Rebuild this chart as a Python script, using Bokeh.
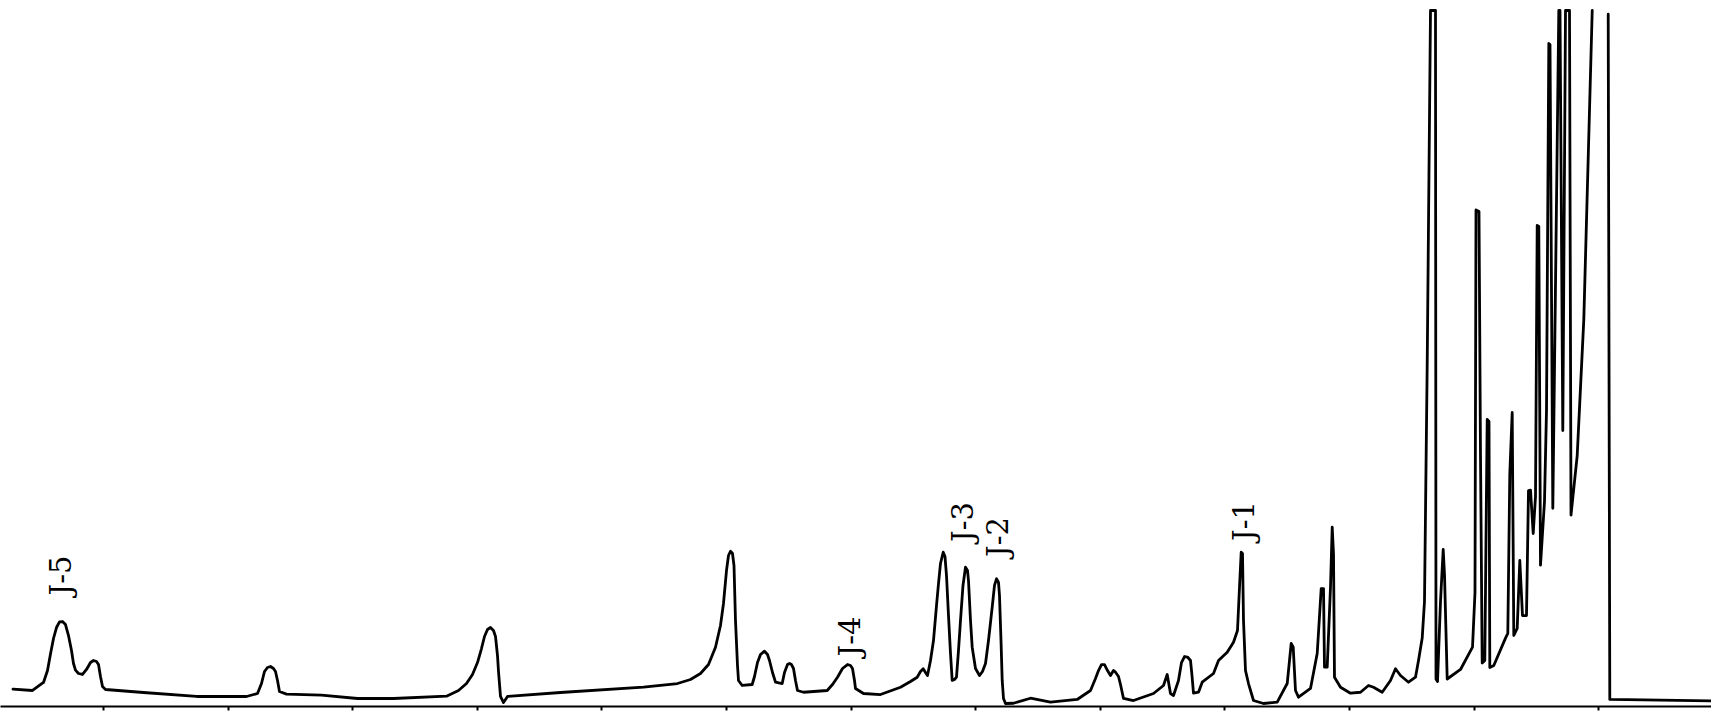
import numpy as np
from bokeh.plotting import figure
from bokeh.models import Range1d, FixedTicker
from bokeh.embed import file_html
from bokeh.resources import INLINE
from bokeh.core.properties import value

NAN = float("nan")

# retention time (chart divisions) and detector signal (% of full scale)
retention_time = [
    -0.7263, -0.5698, -0.4815, -0.4494, -0.4254, -0.4013, -0.3772, -0.3531, -0.3291, -0.3050,
    -0.2809, -0.2568, -0.2408, -0.2247, -0.2006, -0.1685, -0.1364, -0.1043, -0.0803, -0.0562,
    -0.0401, -0.0241, -0.0080, 0.0161, 0.3210, 0.7464, 1.1477,
    1.2360, 1.2681, 1.2921, 1.3162, 1.3403, 1.3644, 1.3804, 1.3965, 1.4125, 1.4687,
    1.7496, 2.0385, 2.3275, 2.7528,
    2.8491, 2.9133, 2.9615, 3.0016, 3.0337, 3.0578, 3.0819, 3.1059, 3.1300, 3.1461,
    3.1621, 3.1702, 3.1862, 3.2103, 3.2424, 3.6677, 4.3339,
    4.6068, 4.7111, 4.7913, 4.8555, 4.9117, 4.9518, 4.9759, 5.0000, 5.0161, 5.0321,
    5.0482, 5.0602, 5.0722, 5.0883, 5.0963, 5.1260, 5.2062, 5.2247, 5.2488, 5.2729,
    5.3050, 5.3290, 5.3451, 5.3692, 5.3933, 5.4471, 5.4655, 5.4896, 5.5056, 5.5217,
    5.5377, 5.5538, 5.5698, 5.6180,
    5.8082, 5.8507, 5.8908, 5.9310, 5.9711, 5.9952, 6.0112, 6.0273, 6.0353, 6.0995, 6.2360,
    6.3965, 6.4767, 6.5305, 6.5570, 6.5787, 6.5971, 6.6132, 6.6373, 6.6613, 6.6854,
    6.7015, 6.7175, 6.7392, 6.7536, 6.7657, 6.7817, 6.7978, 6.8114, 6.8299, 6.8459,
    6.8620, 6.8780, 6.8981, 6.9181, 6.9342, 6.9422, 6.9583, 6.9719, 6.9984, 7.0305,
    7.0546, 7.0787, 7.1027, 7.1325, 7.1509, 7.1670, 7.1830, 7.1910, 7.2031, 7.2127,
    7.2231, 7.2392, 7.3034, 7.4398, 7.6003, 7.8146,
    7.9214, 7.9615, 7.9856, 8.0096, 8.0337, 8.0578, 8.0819, 8.1059, 8.1220, 8.1461,
    8.1621, 8.1862, 8.2665, 8.4270, 8.5072, 8.5369, 8.5634, 8.5875, 8.6276, 8.6517,
    8.6758, 8.6998, 8.7239, 8.7360, 8.7480, 8.7881, 8.8178,
    8.9085, 8.9487, 9.0185, 9.0690, 9.1011, 9.1172, 9.1308, 9.1413, 9.1493, 9.1653,
    9.1894, 9.2296, 9.3098, 9.4200, 9.5000, 9.5321, 9.5482, 9.5666, 9.5907, 9.6870,
    9.7408, 9.7729, 9.7914, 9.7994, 9.8211, 9.8475, 9.8612, 9.8716, 9.8796, 9.9278,
    10.0080, 10.0883, 10.1525, 10.1926, 10.2624, 10.3291, 10.3692, 10.4093, 10.4735, 10.5297,
    10.5538, 10.5835, 10.6019, 10.6236, 10.6501, 10.6902, 10.6942, 10.7063, 10.7304, 10.7520,
    10.7625, 10.7841, 10.8909, 10.9872, 11.0072, 11.0153, 11.0393, 11.0514, 11.0650, 11.0859,
    11.1051, 11.1196, 11.1260, 11.1581, 11.2520, 11.2705, 11.2865, 11.3058, 11.3186, 11.3459,
    11.3668, 11.3884, 11.4205, 11.4366, 11.4527, 11.4743, 11.4928, 11.5064, 11.5193, 11.5329,
    11.5650, 11.5811, 11.5996, 11.6092, 11.6317, 11.6798, 11.6894, 11.7119, 11.7336, 11.7657,
    11.7777, 11.8275, 11.8805, 11.9480, NAN, 12.0763, 12.0891, 12.9053,
]
detector_signal = [
    2.50, 2.30, 3.45, 5.17, 7.53, 9.77, 11.35, 12.16, 12.21, 11.78,
    10.20, 8.05, 6.18, 5.23, 4.74, 4.60, 5.32, 6.32, 6.61, 6.47,
    6.03, 4.31, 2.87, 2.44, 2.01, 1.44, 1.44,
    1.87, 3.30, 5.03, 5.60, 5.75, 5.46, 5.03, 3.74, 2.16, 1.78,
    1.64, 1.15, 1.15, 1.48,
    2.30, 3.30, 4.60, 6.32, 8.33, 10.06, 11.06, 11.35, 10.92, 10.06,
    7.33, 5.03, 1.44, 0.57, 1.44, 2.01, 2.77,
    3.30, 3.88, 4.74, 6.03, 8.52, 11.64, 14.80, 19.54, 21.70, 22.31,
    21.98, 20.26, 12.36, 5.89, 3.74, 3.02, 3.16, 4.31, 6.32, 7.47,
    7.95, 7.47, 6.61, 4.89, 3.49, 3.30, 4.89, 6.03, 6.18, 6.03,
    5.46, 3.74, 2.30, 2.05,
    2.30, 3.16, 4.21, 5.46, 6.03, 5.89, 5.46, 3.74, 2.59, 1.87, 1.72,
    2.77, 3.59, 4.21, 5.03, 5.42, 4.89, 4.45, 6.61, 9.48, 14.51,
    17.67, 20.55, 22.17, 21.55, 18.82, 13.07, 7.62, 3.74, 3.88, 4.21,
    8.05, 12.36, 17.39, 20.01, 19.54, 18.10, 12.36, 8.52, 5.46, 4.45,
    5.03, 6.18, 9.48, 14.27, 17.39, 18.35, 17.82, 15.95, 9.48, 3.74,
    1.15, 0.43, 0.47, 1.19, 0.62, 1.01,
    2.30, 4.02, 5.17, 6.03, 6.03, 5.17, 4.45, 5.17, 4.93, 4.31,
    3.16, 1.15, 0.86, 1.87, 3.02, 4.60, 1.87, 1.58, 3.74, 6.32,
    7.18, 7.11, 6.61, 4.45, 1.91, 2.05, 3.49,
    4.74, 6.61, 7.80, 9.24, 10.92, 17.14, 22.17, 21.98, 12.36, 5.17,
    3.30, 0.86, 0.43, 0.62, 3.30, 9.05, 8.52, 2.30, 1.34, 2.59,
    7.62, 16.95, 16.95, 5.65, 5.65, 17.14, 25.76, 21.98, 4.21, 2.77,
    1.91, 2.05, 3.02, 2.77, 2.05, 3.74, 5.42, 4.45, 3.49, 4.21,
    6.61, 9.83, 15.09, 49.14, 100.0, 100.0, 3.95, 3.59, 15.09, 22.56,
    18.97, 3.95, 5.32, 8.52, 16.38, 71.34, 71.12, 36.06, 6.24, 6.61,
    41.24, 40.95, 5.60, 5.89, 9.83, 10.49, 33.39, 42.24, 10.20, 11.21,
    20.98, 13.07, 13.07, 31.03, 31.09, 24.86, 30.17, 69.11, 68.97, 20.30,
    29.45, 42.53, 95.26, 95.12, 28.48, 100.0, 100.0, 39.66, 100.0, 100.0,
    27.50, 36.06, 55.63, 100.0, NAN, 99.47, 1.01, 0.80,
]

# peak annotations
peak_names = ["J-5", "J-4", "J-3", "J-2", "J-1"]
label_time = [-0.3371, 5.9952, 6.8981, 7.1790, 9.1573]
label_signal = [18.82, 10.06, 26.51, 24.35, 26.65]

tick_positions = list(range(0, 13))

p = figure(
    width=1711, height=714,
    output_backend="svg", toolbar_location=None,
    x_range=Range1d(-0.8266, 12.9053), y_range=Range1d(0, 101.44),
    min_border_left=0, min_border_right=0, min_border_top=0, min_border_bottom=8,
)
p.background_fill_color = "white"
p.border_fill_color = "white"
p.outline_line_color = None
p.grid.visible = False
p.yaxis.visible = False

ax = p.xaxis[0]
ax.ticker = FixedTicker(ticks=tick_positions, minor_ticks=[])
ax.major_tick_in = 0
ax.major_tick_out = 4
ax.minor_tick_line_color = None
ax.major_label_text_font_size = "0px"
ax.major_label_text_color = None
ax.major_label_standoff = 0
ax.axis_line_width = 2
ax.axis_line_color = "black"
ax.major_tick_line_width = 2
ax.major_tick_line_color = "black"

p.line(retention_time, detector_signal, line_width=2.8, line_color="black",
       line_join="round", line_cap="round")

p.text(x=label_time, y=label_signal, text=peak_names, angle=np.pi / 2,
       text_align="center", text_baseline="middle",
       text_font=value("DejaVu Serif"), text_font_size="29px", text_color="black")

open("out.html", "w").write(file_html(p, INLINE))
